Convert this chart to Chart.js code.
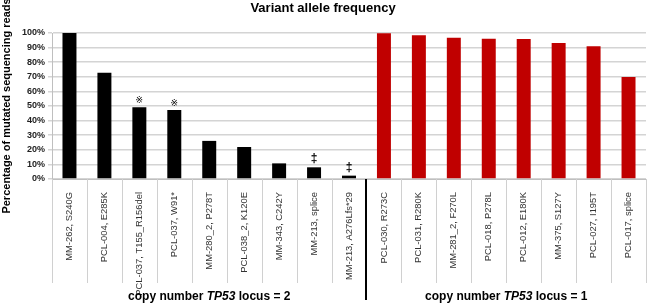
<!DOCTYPE html>
<html>
<head>
<meta charset="utf-8">
<script src="https://cdn.jsdelivr.net/npm/chart.js@4.4.1/dist/chart.umd.min.js"></script>
<style>
  body { margin: 0; background: #fff; }
</style>
</head>
<body>
<canvas id="vaf" width="650" height="305"></canvas>
<script>
// copy number TP53 locus = 2
const diploidLabels = ["MM-262, S240G", "PCL-004, E285K", "PCL-037, T155_R156del", "PCL-037, W91*",
  "MM-280_2, P278T", "PCL-038_2, K120E", "MM-343, C242Y", "MM-213, splice", "MM-213, A276Lfs*29"];
const diploidValues = [100, 72.8, 49.2, 47.3, 26.1, 21.9, 10.7, 8.0, 2.3];
const diploidMarks = ["", "", "\u203B", "\u203B", "", "", "", "\u2021", "\u2021"];

// copy number TP53 locus = 1
const monoLabels = ["PCL-030, R273C", "PCL-031, R280K", "MM-281_2, F270L", "PCL-018, P278L",
  "PCL-012, E180K", "MM-375, S127Y", "PCL-027, I195T", "PCL-017, splice"];
const monoValues = [99.8, 98.4, 96.8, 96.1, 95.9, 93.2, 90.9, 69.9];

const groupNames = ["2", "1"];
const yTicks = [0, 10, 20, 30, 40, 50, 60, 70, 80, 90, 100];

const labels = diploidLabels.concat(monoLabels);
const values = diploidValues.concat(monoValues);
const marks = diploidMarks.concat(monoLabels.map(() => ""));
const colors = diploidValues.map(() => "#000000").concat(monoValues.map(() => "#c00000"));

const FONT = "'Liberation Sans', Arial, sans-serif";

// separators under the axis, group divider, marks above bars, group captions
const extras = {
  id: "extras",
  afterDraw(chart) {
    const { ctx, chartArea } = chart;
    const x = chart.scales.x;
    const y = chart.scales.y;
    const step = x.getPixelForValue(1) - x.getPixelForValue(0);
    const split = diploidLabels.length;
    ctx.save();

    ctx.strokeStyle = "#d0d0d0";
    ctx.lineWidth = 1;
    for (let i = 0; i <= labels.length; i++) {
      if (i === split) continue;
      const px = Math.round(x.getPixelForValue(i) - step / 2) + 0.5;
      ctx.beginPath();
      ctx.moveTo(px, chartArea.bottom);
      ctx.lineTo(px, chartArea.bottom + 104);
      ctx.stroke();
    }

    const dx = Math.round(x.getPixelForValue(split) - step / 2);
    ctx.strokeStyle = "#000";
    ctx.lineWidth = 2;
    ctx.beginPath();
    ctx.moveTo(dx, chartArea.bottom);
    ctx.lineTo(dx, chartArea.bottom + 121);
    ctx.stroke();

    ctx.fillStyle = "#000";
    ctx.textAlign = "center";
    ctx.textBaseline = "alphabetic";
    marks.forEach((m, i) => {
      if (!m) return;
      const px = x.getPixelForValue(i);
      const py = y.getPixelForValue(values[i]);
      if (m === "\u2021") {
        ctx.font = "bold 12px " + FONT;
        ctx.fillText(m, px, py - 5);
      } else {
        ctx.font = "9px 'DejaVu Sans', sans-serif";
        ctx.fillText(m, px, py - 4);
      }
    });

    const ranges = [[0, split], [split, labels.length]];
    ranges.forEach((r, g) => {
      const left = x.getPixelForValue(r[0]) - step / 2;
      const right = x.getPixelForValue(r[1] - 1) + step / 2;
      const parts = [
        ["bold 12px " + FONT, "copy number "],
        ["italic bold 12px " + FONT, "TP53"],
        ["bold 12px " + FONT, " locus = " + groupNames[g]]
      ];
      let total = 0;
      parts.forEach(p => { ctx.font = p[0]; total += ctx.measureText(p[1]).width; });
      let cx = (left + right) / 2 - total / 2;
      ctx.textAlign = "left";
      parts.forEach(p => {
        ctx.font = p[0];
        ctx.fillText(p[1], cx, 300);
        cx += ctx.measureText(p[1]).width;
      });
    });
    ctx.restore();
  }
};

new Chart(document.getElementById("vaf"), {
  type: "bar",
  data: {
    labels: labels,
    datasets: [{
      label: "Variant allele frequency",
      data: values,
      backgroundColor: colors,
      borderWidth: 0,
      barPercentage: 0.8,
      categoryPercentage: 0.5
    }]
  },
  options: {
    responsive: false,
    animation: false,
    layout: { padding: { left: 0, right: 4, top: 0, bottom: 0 } },
    plugins: {
      legend: { display: false },
      tooltip: { enabled: false },
      title: {
        display: true,
        text: "Variant allele frequency",
        color: "#000",
        font: { family: FONT, size: 13, weight: "bold" },
        padding: { top: 1, bottom: 16.4 }
      }
    },
    scales: {
      x: {
        grid: { display: false },
        border: { color: "#bfbfbf" },
        ticks: {
          autoSkip: false,
          maxRotation: 90,
          minRotation: 90,
          padding: 5,
          color: "#333",
          font: { family: FONT, size: 9.4 }
        },
        afterFit(scale) { scale.height = 126; }
      },
      y: {
        min: 0,
        max: 100,
        afterBuildTicks(scale) { scale.ticks = yTicks.map(v => ({ value: v })); },
        grid: { color: "#d4d4d4", lineWidth: 1.5, tickLength: 4 },
        border: { color: "#bfbfbf" },
        ticks: {
          padding: 3,
          color: "#222",
          font: { family: FONT, size: 9, weight: "bold" },
          callback: v => v + "%"
        },
        title: {
          display: true,
          text: "Percentage of mutated sequencing reads",
          color: "#000",
          font: { family: FONT, size: 11, weight: "bold" },
          padding: { top: 0, bottom: 0 }
        },
        afterFit(scale) { scale.width = 52; }
      }
    }
  },
  plugins: [extras]
});
</script>
</body>
</html>
